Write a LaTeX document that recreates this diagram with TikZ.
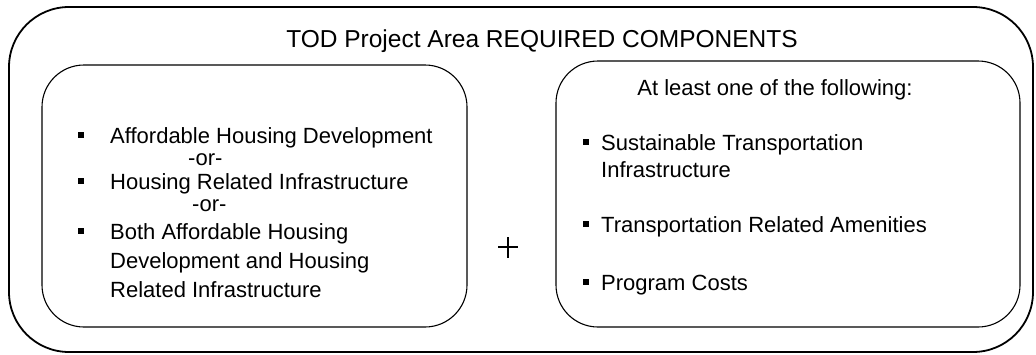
\documentclass[tikz,border=0pt]{standalone}
\usepackage{fontspec}
\setmainfont{Liberation Sans}
\usetikzlibrary{positioning}
\tikzstyle{every picture}=[x=1pt, y=-1pt]
\tikzstyle{outer}=[draw, line width=1.8pt, rounded corners=60pt, inner sep=0pt]
\tikzstyle{panel}=[draw, line width=1.1pt, rounded corners=42pt, inner sep=0pt]
\tikzstyle{item}=[anchor=base west, inner sep=0pt, font=\fontsize{22}{26}\selectfont]
\tikzstyle{bullet}=[fill, rectangle, minimum size=5.5pt, inner sep=0pt]

\begin{document}
\begin{tikzpicture}
\useasboundingbox (0,0) rectangle (1036,354);
% frames
\node[outer, minimum width=1024pt, minimum height=345pt] (area) at (521,179.5) {};
\node[panel, minimum width=425pt, minimum height=262pt] (housing) at (254.5,196) {};
\node[panel, minimum width=464pt, minimum height=266pt] (transp) at (788,194) {};
\node[anchor=base, inner sep=0pt, font=\fontsize{24.5}{28}\selectfont] (title) at (542,47)
	{TOD Project Area REQUIRED COMPONENTS};
% left list
\node[item] (a1) at (110,143) {Affordable Housing Development};
\node[item] (or1) at (188,165) {-or-};
\node[item] (a2) at (110,189) {Housing Related Infrastructure};
\node[item] (or2) at (192,211) {-or-};
\node[item] (a3) at (110,239) {Both Affordable Housing};
\node[item] (a3b) at (110,268) {Development and Housing};
\node[item] (a3c) at (110,297) {Related Infrastructure};
\node[bullet] (ba1) at (81,135) {};
\node[bullet] (ba2) at (81,181) {};
\node[bullet] (ba3) at (81,231) {};
% plus
\draw[line width=2.8pt] (498,247) -- (518,247) (508,237) -- (508,258);
% right list
\node[anchor=base, inner sep=0pt, font=\fontsize{22}{26}\selectfont] (head) at (775,95)
	{At least one of the following:};
\node[item] (b1) at (601,150) {Sustainable Transportation};
\node[item] (b1b) at (601,177) {Infrastructure};
\node[item] (b2) at (601,232) {Transportation Related Amenities};
\node[item] (b3) at (601,290) {Program Costs};
\node[bullet] (bb1) at (586,142) {};
\node[bullet] (bb2) at (586,224) {};
\node[bullet] (bb3) at (586,282) {};
\end{tikzpicture}
\end{document}
